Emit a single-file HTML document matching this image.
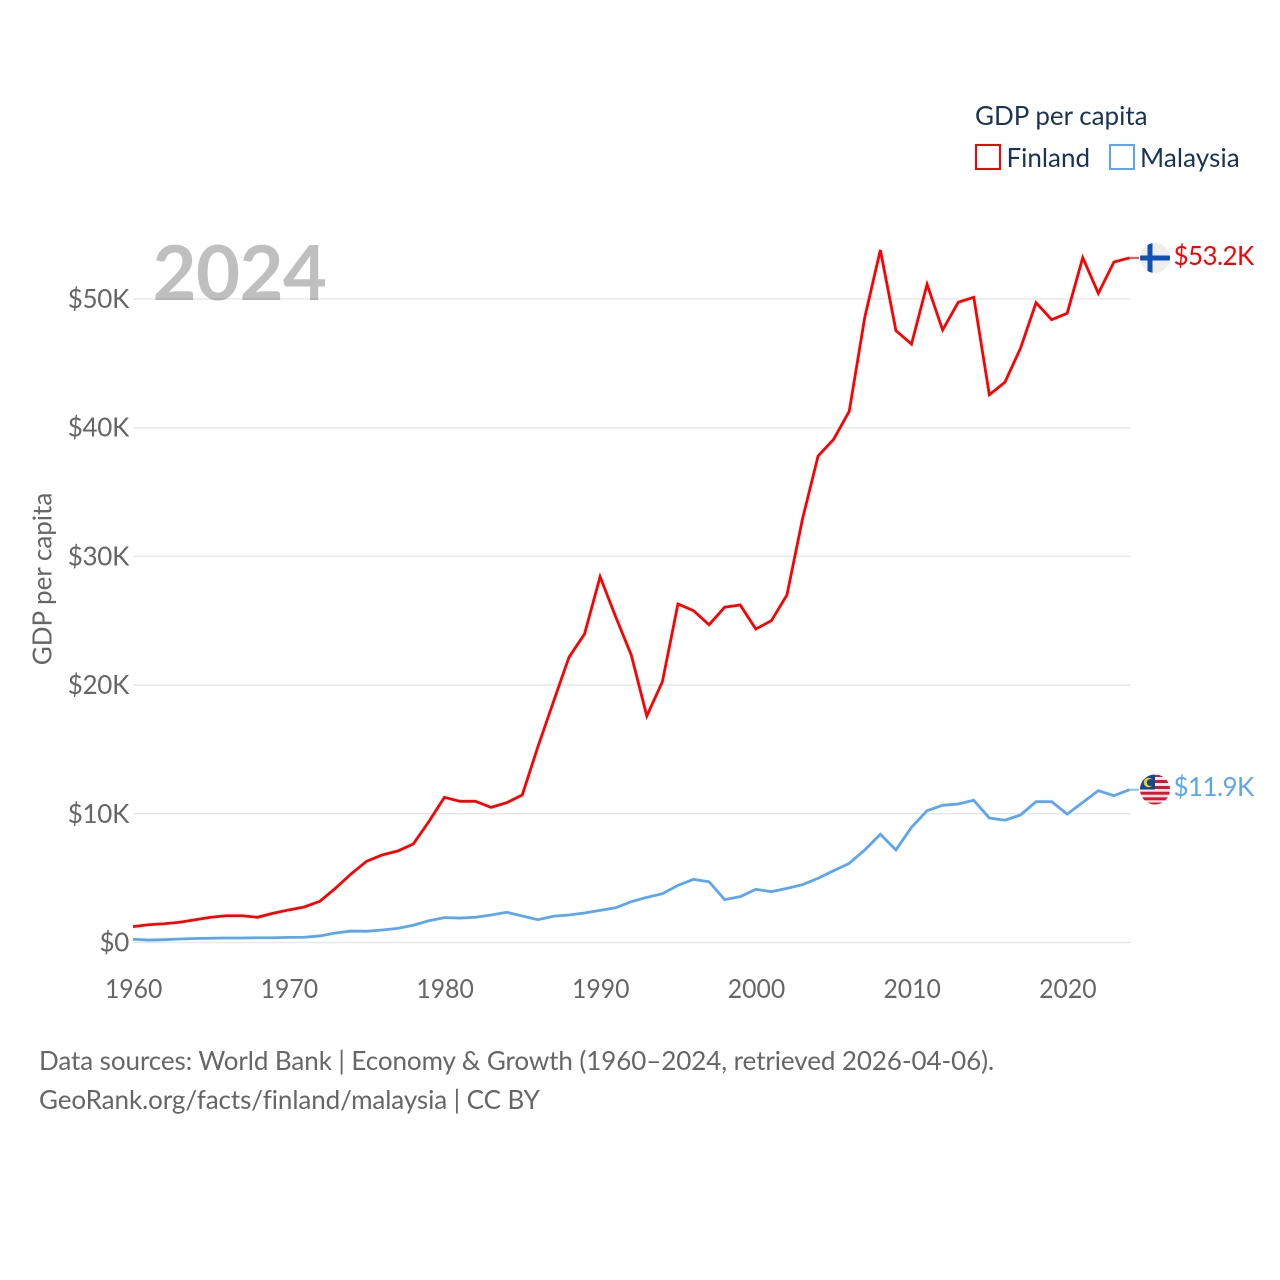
<!DOCTYPE html>
<html lang="en">
<head>
<meta charset="utf-8">
<title>GDP per capita: Finland and Malaysia</title>
<style>
html,body{margin:0;padding:0;background:#fff;}
svg{display:block;}
text{font-family:"Lato","Carlito","Liberation Sans",sans-serif;font-variant-ligatures:none;}
.tick{font-size:26px;fill:#666;}
.ytick{letter-spacing:-0.3px;}
.src{font-size:26px;fill:#666;letter-spacing:-0.08px;}
.leg{font-size:26px;fill:#1a3353;}
.endlab{font-size:26px;letter-spacing:-0.6px;}
</style>
</head>
<body>
<svg id="chart" width="1280" height="1280" viewBox="0 0 1280 1280" xmlns="http://www.w3.org/2000/svg">
  <defs>
    <clipPath id="fi-clip"><circle cx="1155" cy="258" r="15"/></clipPath>
    <clipPath id="my-clip"><circle cx="1155" cy="789.5" r="15"/></clipPath>
  </defs>
  <rect width="1280" height="1280" fill="#fff"/>
  <g id="grid"></g>
  <text x="152.5" y="300" font-size="76" font-weight="700" fill="#000" fill-opacity="0.25" style="letter-spacing:-0.6px">2024</text>
  <g id="yticks"></g>
  <g id="xticks"></g>
  <text class="tick" transform="translate(51.5,579) rotate(-90)" text-anchor="middle">GDP per capita</text>
  <g id="series"></g>

  <g clip-path="url(#fi-clip)">
    <rect x="1140" y="243" width="30" height="30" fill="#eeeeee"/>
    <rect x="1147.500" y="243" width="5" height="30" fill="#0f50b4"/>
    <rect x="1140" y="255.500" width="30" height="5" fill="#0f50b4"/>
  </g>
  <g clip-path="url(#my-clip)">
    <rect x="1140" y="774.500" width="30" height="30" fill="#eeeeee"/>
    <rect x="1140" y="775" width="30" height="2" fill="#e0122d"/>
    <rect x="1140" y="780" width="30" height="3" fill="#e0122d"/>
    <rect x="1140" y="786" width="30" height="3" fill="#e0122d"/>
    <rect x="1140" y="791.700" width="30" height="3" fill="#e0122d"/>
    <rect x="1140" y="797.300" width="30" height="3" fill="#e0122d"/>
    <rect x="1140" y="802.500" width="30" height="3" fill="#e0122d"/>
    <rect x="1140" y="774.500" width="15" height="15" fill="#0f4a94"/>
    <circle cx="1148.500" cy="782.500" r="4.800" fill="#ffc61a"/>
    <circle cx="1150.300" cy="782.500" r="3.500" fill="#0f4a94"/>
  </g>
  <g id="endlabels"></g>

  <g>
    <text class="leg" x="975" y="125">GDP per capita</text>
    <rect x="976" y="145" width="24" height="24" fill="none" stroke="#ff0000" stroke-width="2"/>
    <text class="leg" x="1006.500" y="167">Finland</text>
    <rect x="1110" y="145" width="24" height="24" fill="none" stroke="#5ba6ef" stroke-width="2"/>
    <text class="leg" x="1140" y="167" style="letter-spacing:0.1px">Malaysia</text>
  </g>

  <text class="src" x="39" y="1070">Data sources: World Bank | Economy &amp; Growth (1960–2024, retrieved 2026-04-06).</text>
  <text class="src" x="39" y="1109">GeoRank.org/facts/finland/malaysia | CC BY</text>
</svg>
<script>
const startYear = 1960;
const xTickYears = [1960, 1970, 1980, 1990, 2000, 2010, 2020];
const yTickValues = [0, 10, 20, 30, 40, 50];
const finlandValues = [1.23,1.38,1.46,1.57,1.77,1.96,2.08,2.08,1.96,2.27,2.53,2.76,3.20,4.21,5.32,6.31,6.80,7.11,7.65,9.39,11.28,10.97,10.97,10.50,10.86,11.46,15.19,18.69,22.16,23.97,28.42,25.31,22.34,17.60,20.26,26.30,25.78,24.69,26.05,26.22,24.36,25.00,27.00,32.91,37.80,39.10,41.27,48.58,53.81,47.54,46.50,51.14,47.59,49.74,50.13,42.56,43.53,46.17,49.71,48.39,48.89,53.21,50.44,52.87,53.19];
const malaysiaValues = [0.25,0.19,0.22,0.27,0.31,0.33,0.35,0.35,0.37,0.37,0.40,0.41,0.51,0.74,0.89,0.87,0.97,1.10,1.34,1.69,1.93,1.90,1.96,2.14,2.35,2.06,1.77,2.04,2.14,2.29,2.50,2.70,3.17,3.51,3.79,4.44,4.91,4.72,3.33,3.56,4.13,3.95,4.21,4.49,4.99,5.58,6.15,7.19,8.41,7.19,8.95,10.24,10.66,10.76,11.05,9.67,9.50,9.91,10.94,10.94,9.98,10.89,11.80,11.41,11.87];

const NS = 'http://www.w3.org/2000/svg';
const xScale = year => 133 + (year - 1960) * 15.57;
const yScale = value => 942.5 - value * 12.87;
const money = value => '$' + value.toFixed(value === Math.round(value) ? 0 : 1) + (value === 0 ? '' : 'K');

function make(tag, attrs, parent) {
  const el = document.createElementNS(NS, tag);
  for (const k in attrs) el.setAttribute(k, attrs[k]);
  parent.appendChild(el);
  return el;
}

const gridG = document.getElementById('grid');
const yG = document.getElementById('yticks');
yTickValues.forEach(v => {
  const line = make('line', {x1: 133, x2: 1130.5, y1: yScale(v), y2: yScale(v), stroke: '#e8e8e8', 'stroke-width': 1.5}, gridG);
  
  
  const label = make('text', {x: 129, y: yScale(v) + 9, 'text-anchor': 'end', class: 'tick ytick'}, yG);
  
  
  label.textContent = money(v);
});

const xG = document.getElementById('xticks');
xTickYears.forEach(year => {
  const label = make('text', {x: xScale(year) + 0.7, y: 998, 'text-anchor': 'middle', class: 'tick', textLength: 57.5, lengthAdjust: 'spacingAndGlyphs'}, xG);
  
  
  label.textContent = year;
});

function drawSeries(values, color, lineName, connectorName) {
  const seriesG = document.getElementById('series');
  const d = values.map((v, i) => (i ? 'L' : 'M') + xScale(startYear + i).toFixed(2) + ' ' + yScale(v).toFixed(2)).join('');
  const path = make('path', {d: d, fill: 'none', stroke: color, 'stroke-width': 2.8, 'stroke-linejoin': 'miter'}, seriesG);
  
  
  const lastIndex = values.length - 1;
  const lastY = yScale(values[lastIndex]);
  const connector = make('line', {x1: xScale(startYear + lastIndex), x2: 1139, y1: lastY, y2: lastY, stroke: color, 'stroke-width': 2, 'stroke-opacity': 0.7}, seriesG);
  
  
}
drawSeries(finlandValues, '#ff0000', 'finland-line', 'finland-connector');
drawSeries(malaysiaValues, '#5ba6ef', 'malaysia-line', 'malaysia-connector');

const endG = document.getElementById('endlabels');
const finEnd = make('text', {x: 1173.5, y: 265, class: 'endlab', fill: '#ff0000'}, endG);


finEnd.textContent = money(finlandValues[finlandValues.length - 1]);
const myEnd = make('text', {x: 1173.5, y: 796, class: 'endlab', fill: '#5ba6ef'}, endG);


myEnd.textContent = money(malaysiaValues[malaysiaValues.length - 1]);
</script>
</body>
</html>
